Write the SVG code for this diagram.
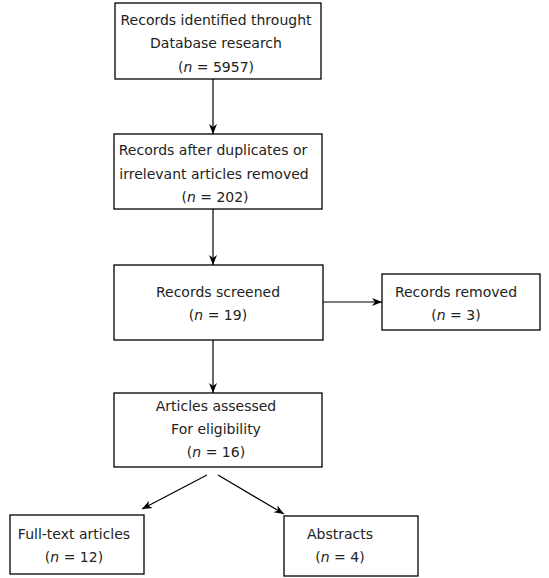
<svg xmlns="http://www.w3.org/2000/svg" width="549" height="578" viewBox="0 0 549 578">
<style>
.box{fill:#fff;stroke:#000;stroke-width:1.3}
.t{font-family:"DejaVu Sans",Verdana,sans-serif;font-size:14px;fill:#222;text-anchor:middle}
.i{font-style:italic}
.c{stroke:#000;stroke-width:1.2;fill:none}
</style>
<defs>
<marker id="ah" viewBox="0 0 10 10" refX="10" refY="5" markerWidth="10" markerHeight="10" markerUnits="userSpaceOnUse" orient="auto">
<path d="M0,1 L10,5 L0,9 L3,5 Z" fill="#000"/>
</marker>
</defs>
<rect width="549" height="578" fill="#fff"/>
<g id="connectors">
<line class="c" x1="213" y1="79" x2="213" y2="134" marker-end="url(#ah)"/>
<line class="c" x1="213" y1="209" x2="213" y2="265" marker-end="url(#ah)"/>
<line class="c" x1="323" y1="302" x2="382" y2="302" marker-end="url(#ah)"/>
<line class="c" x1="213" y1="340" x2="213" y2="393" marker-end="url(#ah)"/>
<line class="c" x1="207" y1="475" x2="142" y2="509" marker-end="url(#ah)"/>
<line class="c" x1="218" y1="475" x2="284" y2="514" marker-end="url(#ah)"/>
</g>
<g id="n1">
<rect class="box" x="115" y="3" width="206" height="76"/>
<text class="t" x="216" y="25">Records identified throught</text>
<text class="t" x="216" y="48">Database research</text>
<text class="t" x="216" y="72">(<tspan class="i">n</tspan> = 5957)</text>
</g>
<g id="n2">
<rect class="box" x="114" y="134" width="208" height="75"/>
<text class="t" x="213" y="155">Records after duplicates or</text>
<text class="t" x="214" y="179">irrelevant articles removed</text>
<text class="t" x="215" y="202">(<tspan class="i">n</tspan> = 202)</text>
</g>
<g id="n3">
<rect class="box" x="114" y="265" width="209" height="75"/>
<text class="t" x="218" y="297">Records screened</text>
<text class="t" x="218" y="320">(<tspan class="i">n</tspan> = 19)</text>
</g>
<g id="n4">
<rect class="box" x="382" y="274" width="158" height="56"/>
<text class="t" x="456" y="297">Records removed</text>
<text class="t" x="456" y="320">(<tspan class="i">n</tspan> = 3)</text>
</g>
<g id="n5">
<rect class="box" x="114" y="393" width="208" height="74"/>
<text class="t" x="216" y="411">Articles assessed</text>
<text class="t" x="216" y="434">For eligibility</text>
<text class="t" x="216" y="457">(<tspan class="i">n</tspan> = 16)</text>
</g>
<g id="n6">
<rect class="box" x="10" y="515" width="134" height="59"/>
<text class="t" x="74" y="539">Full-text articles</text>
<text class="t" x="74" y="562">(<tspan class="i">n</tspan> = 12)</text>
</g>
<g id="n7">
<rect class="box" x="284" y="516" width="134" height="60"/>
<text class="t" x="340" y="539">Abstracts</text>
<text class="t" x="340" y="562">(<tspan class="i">n</tspan> = 4)</text>
</g>
</svg>
